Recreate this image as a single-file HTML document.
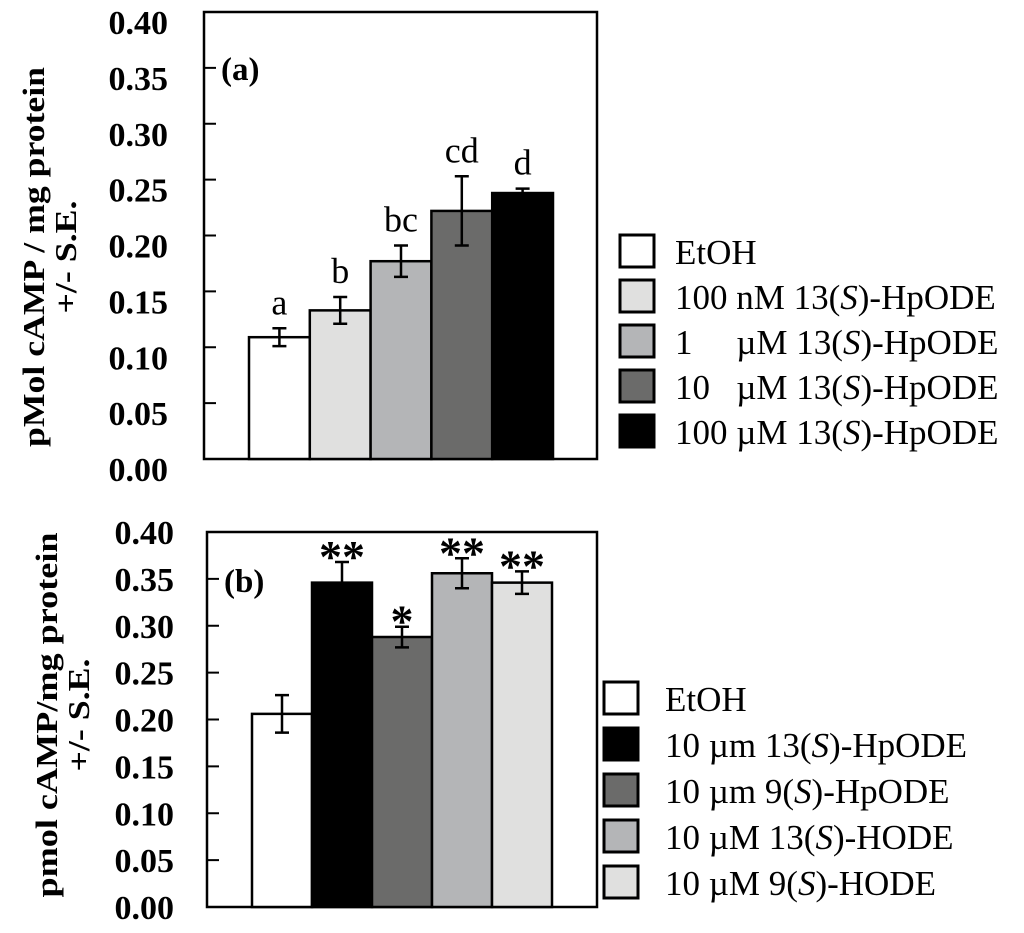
<!DOCTYPE html>
<html><head><meta charset="utf-8"><style>
body{margin:0;background:#fff;}
svg{display:block;font-family:"Liberation Serif",serif;}
</style></head><body>
<svg id="chart" width="1024" height="933" viewBox="0 0 1024 933">
</svg>
<script>
const NS='http://www.w3.org/2000/svg';
const svg=document.getElementById('chart');
const ticks=[0,0.05,0.10,0.15,0.20,0.25,0.30,0.35,0.40];
const tickLabels=['0.00','0.05','0.10','0.15','0.20','0.25','0.30','0.35','0.40'];
const catsA=['EtOH','100 nM 13(S)-HpODE','1 µM 13(S)-HpODE','10 µM 13(S)-HpODE','100 µM 13(S)-HpODE'];
const valsA=[0.109,0.133,0.177,0.222,0.238];
const errA=[0.008,0.012,0.014,0.031,0.004];
const sigA=['a','b','bc','cd','d'];
const fillsA=['#ffffff','#e0e0df','#b4b5b7','#6b6b6a','#000000'];
const legendA=['EtOH','100 nM 13(<tspan font-style="italic">S</tspan>)-HpODE','1&#160;&#160;&#160;&#160;&#160;µM 13(<tspan font-style="italic">S</tspan>)-HpODE','10&#160;&#160;&#160;µM 13(<tspan font-style="italic">S</tspan>)-HpODE','100 µM 13(<tspan font-style="italic">S</tspan>)-HpODE'];
const catsB=['EtOH','10 µm 13(S)-HpODE','10 µm 9(S)-HpODE','10 µM 13(S)-HODE','10 µM 9(S)-HODE'];
const valsB=[0.206,0.346,0.288,0.356,0.346];
const errB=[0.020,0.022,0.011,0.016,0.012];
const sigB=['','**','*','**','**'];
const fillsB=['#ffffff','#000000','#6b6b6a','#b4b5b7','#e0e0df'];
const legendB=['EtOH','10 µm 13(<tspan font-style="italic">S</tspan>)-HpODE','10 µm 9(<tspan font-style="italic">S</tspan>)-HpODE','10 µM 13(<tspan font-style="italic">S</tspan>)-HODE','10 µM 9(<tspan font-style="italic">S</tspan>)-HODE'];

function mk(tag,attrs,parent){const e=document.createElementNS(NS,tag);for(const k in attrs)e.setAttribute(k,attrs[k]);(parent||svg).appendChild(e);return e;}

function panel(cfg){
  const g=mk('g',{});
  
  
  const y=v=>cfg.y0-(v/0.4)*(cfg.y0-cfg.yTop);
  const fr=mk('rect',{x:cfg.left,y:cfg.yTop,width:cfg.right-cfg.left,height:cfg.y0-cfg.yTop,fill:'none',stroke:'#000','stroke-width':2.5},g);
  
  
  ticks.forEach((t,i)=>{
    const tk=mk('line',{x1:cfg.left,x2:cfg.left+12,y1:y(t),y2:y(t),stroke:'#000','stroke-width':2},g);
    
    
    const tl=mk('text',{x:cfg.labelX,y:y(t)+cfg.labelDy,'text-anchor':'end','font-size':34,'font-weight':'bold'},g);
    tl.textContent=tickLabels[i];
    
    
  });
  const bw=cfg.bw;
  cfg.vals.forEach((v,i)=>{
    const x=cfg.barX0+i*bw;
    const b=mk('rect',{x:x,y:y(v),width:bw,height:cfg.y0-y(v),fill:cfg.fills[i],stroke:'#000','stroke-width':2.5},g);
    
    
    const cx=x+bw/2,e=cfg.err[i];
    const eg=mk('path',{d:`M${cx} ${y(v+e)}V${y(v-e)}M${cx-7} ${y(v+e)}H${cx+7}M${cx-7} ${y(v-e)}H${cx+7}`,stroke:'#000','stroke-width':2.5,fill:'none'},g);
    
    
    if(cfg.sig[i]){
      const s=mk('text',{x:cx,y:y(v+e)+cfg.sigDy,'text-anchor':'middle','font-size':cfg.sigSize,'font-weight':cfg.sigBold?'bold':'normal'},g);
      s.textContent=cfg.sig[i];
      
      
    }
  });
  const pl=mk('text',{x:cfg.left+17,y:cfg.tagY,'font-size':33,'font-weight':'bold'},g);
  pl.textContent=cfg.tag;
  
  
  const t=mk('text',{transform:`translate(${cfg.titleX},${cfg.titleY}) rotate(-90)`,'text-anchor':'middle','font-size':31,'font-weight':'bold'},g);
  t.innerHTML=`<tspan x="0" dy="0" textLength="${cfg.titleLen}" lengthAdjust="spacingAndGlyphs">${cfg.title}</tspan><tspan x="0" dy="32" textLength="113" lengthAdjust="spacingAndGlyphs">+/- S.E.</tspan>`;
  
  
  cfg.legend.forEach((lab,i)=>{
    const ly=cfg.legY0+i*cfg.legDy;
    const le=mk('g',{},g);
    
    
    mk('rect',{x:cfg.legX,y:ly-17,width:34,height:32,fill:cfg.fills[i],stroke:'#000','stroke-width':3},le);
    const lt=mk('text',{x:cfg.legX+(cfg.legTextX),y:ly+12,'font-size':35},le);
    lt.innerHTML=lab;
  });
}
panel({name:'panel-a',left:204,right:597,yTop:12,y0:459,labelX:168,labelDy:22,barX0:249,bw:60.8,vals:valsA,err:errA,sig:sigA,fills:fillsA,sigDy:-14,sigSize:36,sigBold:false,tag:'(a)',tagY:80,title:'pMol cAMP / mg protein',titleLen:380,titleX:44,titleY:257,legend:legendA,legX:620,legY0:252,legDy:45,legTextX:55});
panel({name:'panel-b',left:207,right:597,yTop:532,y0:907,labelX:174,labelDy:12,barX0:252,bw:60,vals:valsB,err:errB,sig:sigB,fills:fillsB,sigDy:10,sigSize:46,sigBold:true,tag:'(b)',tagY:592,title:'pmol cAMP/mg protein',titleLen:365,titleX:57,titleY:715,legend:legendB,legX:604,legY0:699,legDy:46,legTextX:61});
</script>
</body></html>
